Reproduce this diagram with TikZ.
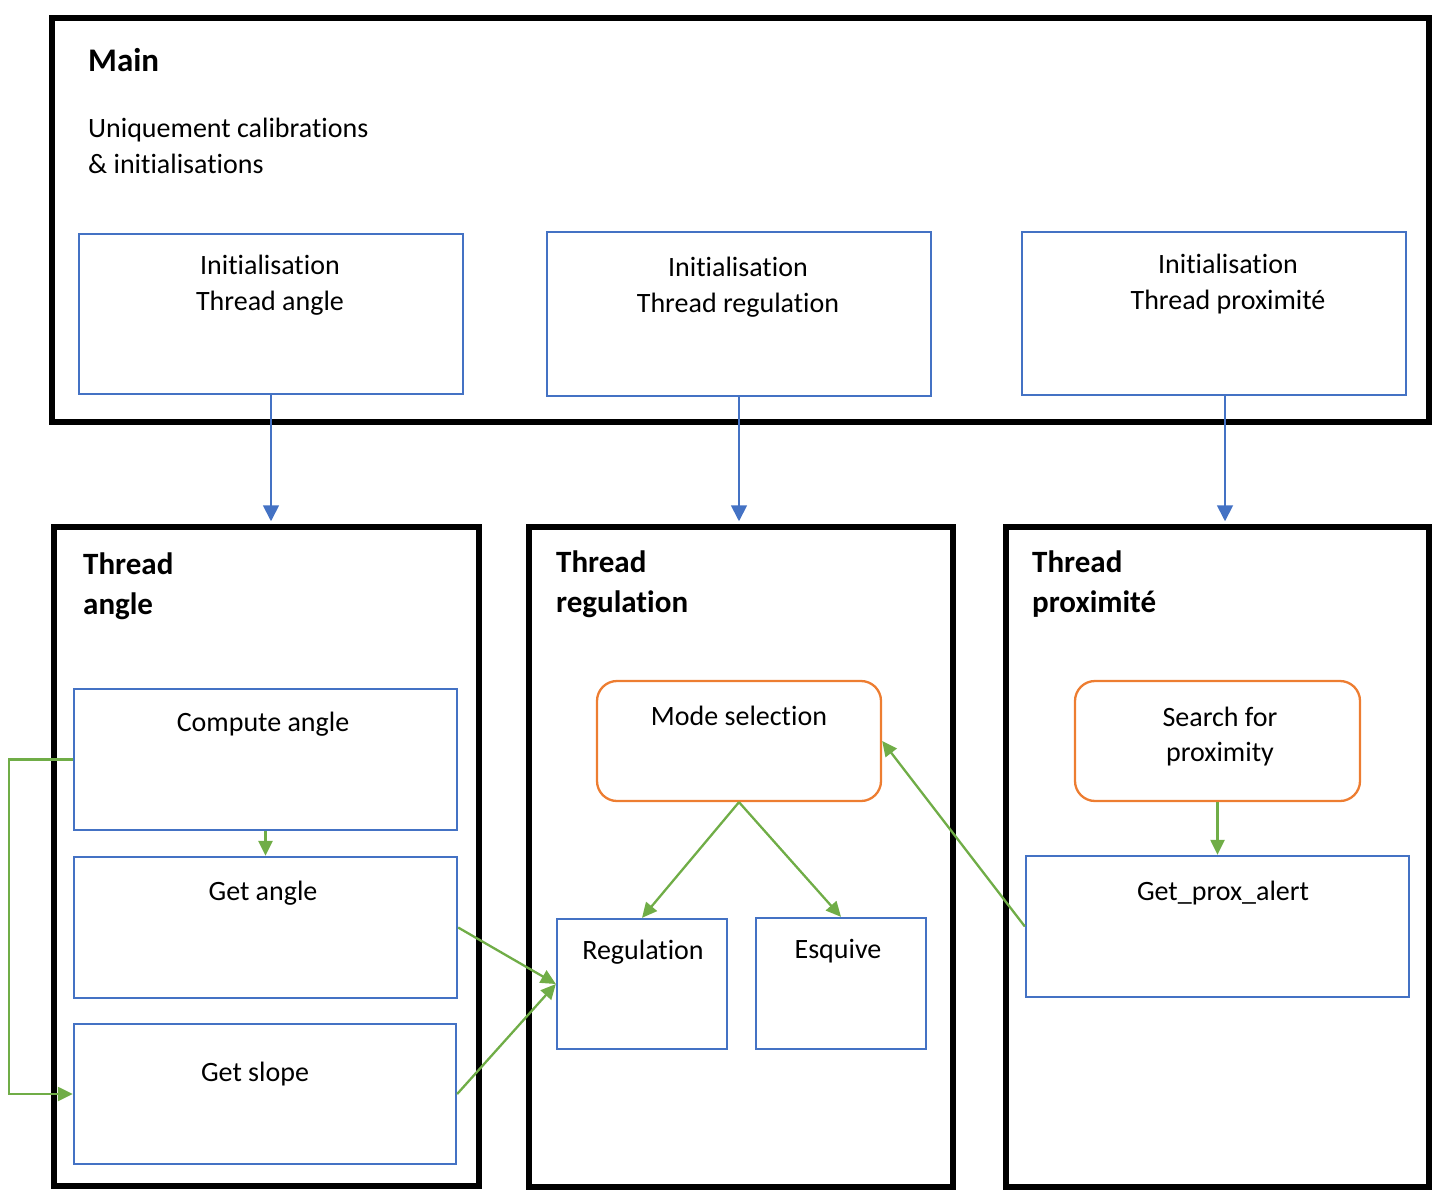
\documentclass[tikz,border=0pt]{standalone}
\usepackage{fontspec}
\setmainfont{Carlito}[Ligatures=NoCommon]
\usetikzlibrary{arrows.meta}
\definecolor{bblue}{HTML}{4472C4}
\definecolor{oorange}{HTML}{ED7D31}
\definecolor{ggreen}{HTML}{70AD47}
\tikzset{
  bigbox/.style={draw=black, line width=5.5pt, rectangle, inner sep=0pt},
  bluebox/.style={draw=bblue, line width=2.3pt, rectangle, inner sep=0pt},
  orangebox/.style={draw=oorange, line width=2.3pt, rectangle, rounded corners=20pt, inner sep=0pt},
  txt/.style={inner sep=0pt, anchor=base, align=center, font=\fontsize{28}{36}\selectfont},
  ltxt/.style={inner sep=0pt, anchor=base west, align=left, font=\fontsize{28}{36}\selectfont},
  ttl/.style={inner sep=0pt, anchor=base west, align=left, font=\fontsize{31}{40}\selectfont\bfseries},
  barrow/.style={draw=bblue, line width=1.8pt, -{Triangle[length=16pt,width=16pt]}},
  garrow/.style={draw=ggreen, line width=2.3pt, -{Triangle[length=15pt,width=14pt]}},
}
\begin{document}
\begin{tikzpicture}[x=1pt,y=-1pt]
\useasboundingbox (0,0) rectangle (1441,1199);
% main
\node[bigbox, minimum width=1377pt, minimum height=404pt] (main) at (740.5,220) {};
\node[ttl, font=\fontsize{33}{40}\selectfont\bfseries] (maint) at (88,71) {Main};
\node[ltxt] (maind) at (88,173) {Uniquement calibrations\\\& initialisations};
\node[bluebox, minimum width=384pt, minimum height=160pt] (ia) at (271,314) {};
\node[bluebox, minimum width=384pt, minimum height=164pt] (ir) at (739,314) {};
\node[bluebox, minimum width=384pt, minimum height=163pt] (ip) at (1214,313.5) {};
\node[txt] (iat) at (270,310) {Initialisation\\Thread angle};
\node[txt] (irt) at (738,312) {Initialisation\\Thread regulation};
\node[txt] (ipt) at (1228,309) {Initialisation\\Thread proximité};
% threads
\node[bigbox, minimum width=425pt, minimum height=659pt] (ta) at (266.5,856.5) {};
\node[bigbox, minimum width=424pt, minimum height=660pt] (tr) at (741,857) {};
\node[bigbox, minimum width=423pt, minimum height=660pt] (tp) at (1217.5,857) {};
\node[ttl] (tat) at (83,614) {Thread\\angle};
\node[ttl] (trt) at (556,612) {Thread\\regulation};
\node[ttl] (tpt) at (1032,612) {Thread\\proximité};
% thread angle inner
\node[bluebox, minimum width=383pt, minimum height=141pt] (ca) at (265.5,759.5) {};
\node[bluebox, minimum width=383pt, minimum height=141pt] (ga) at (265.5,927.5) {};
\node[bluebox, minimum width=382pt, minimum height=140pt] (gs) at (265,1094) {};
\node[txt] (cat) at (263,731) {Compute angle};
\node[txt] (gat) at (263,900) {Get angle};
\node[txt] (gst) at (255,1081) {Get slope};
% regulation inner
\node[orangebox, minimum width=284pt, minimum height=120pt] (ms) at (739,741) {};
\node[bluebox, minimum width=170pt, minimum height=130pt] (rg) at (642,984) {};
\node[bluebox, minimum width=170pt, minimum height=131pt] (es) at (841,983.5) {};
\node[txt] (mst) at (739,725) {Mode selection};
\node[txt] (rgt) at (643,959) {Regulation};
\node[txt] (est) at (838,958) {Esquive};
% proximite inner
\node[orangebox, minimum width=285pt, minimum height=120pt] (sp) at (1217.5,741) {};
\node[bluebox, minimum width=383pt, minimum height=141pt] (gp) at (1217.5,926.5) {};
\node[txt, font=\fontsize{28}{35}\selectfont] (spt) at (1220,761) {Search for\\proximity};
\node[txt] (gpt) at (1223,900) {Get\_prox\_alert};
% blue arrows
\draw[barrow, shorten >=3pt] (ia.south) -- (ia.south |- ta.north);
\draw[barrow, shorten >=3pt] (ir.south) -- (ir.south |- tr.north);
\draw[barrow, shorten >=3pt] ([xshift=11pt]ip.south) -- ([xshift=11pt]ip.south |- tp.north);
% green arrows
\draw[garrow] (ca.south) -- (ga.north);
\draw[garrow] (ca.west) -- ++(-64,0) |- (gs.west);
\draw[garrow] (ga.east) -- (rg.west);
\draw[garrow] (gs.east) -- (rg.west);
\draw[garrow] (ms.south) -- (rg.north);
\draw[garrow] (ms.south) -- (es.north);
\draw[garrow] (gp.west) -- (ms.east);
\draw[garrow] (sp.south) -- (gp.north);
\end{tikzpicture}
\end{document}
